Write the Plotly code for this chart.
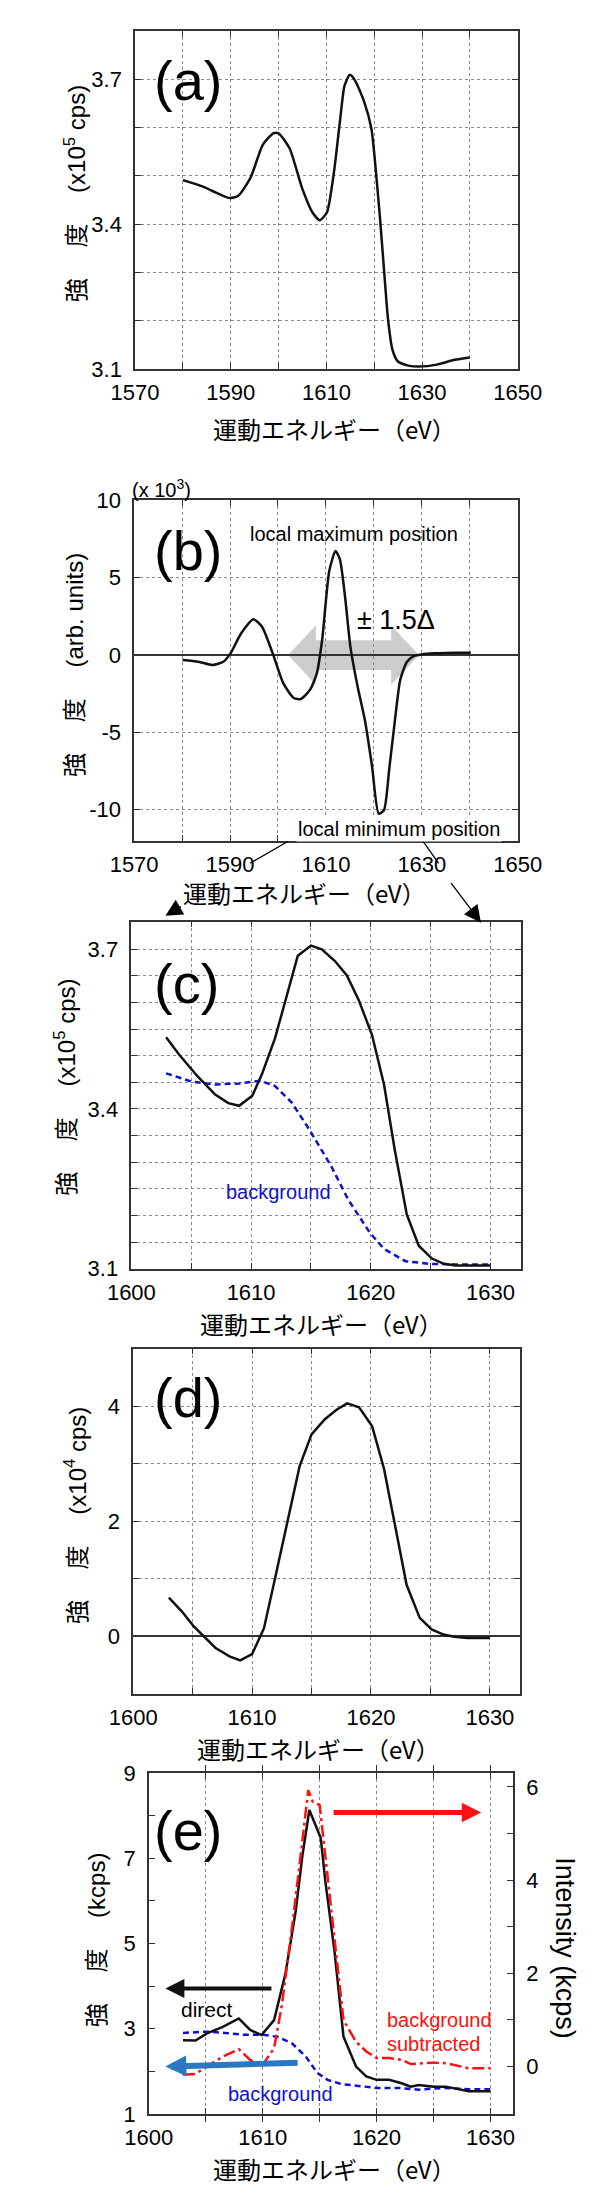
import plotly.graph_objects as go

W, H = 600, 2200

# ---------------- data ----------------
# (a) raw spectrum (x10^5 cps)
a_energy = [1580, 1584.1, 1586.3, 1589.7, 1591.5, 1594.1, 1596.7, 1598.9, 1600, 1602.3, 1604.9,
            1607.1, 1608.6, 1610.1, 1611.6, 1612.9, 1613.8, 1614.9, 1616, 1617.9, 1619.4, 1620.1,
            1621.2, 1622, 1622.9, 1623.8, 1624.9, 1627.1, 1629.4, 1633.1, 1636.8, 1640]
a_intensity = [3.491, 3.478, 3.468, 3.454, 3.458, 3.495, 3.564, 3.588, 3.588, 3.557, 3.475,
               3.424, 3.408, 3.424, 3.509, 3.619, 3.687, 3.709, 3.697, 3.653, 3.598, 3.536,
               3.413, 3.311, 3.201, 3.140, 3.116, 3.107, 3.105, 3.109, 3.119, 3.124]

# (b) derivative spectrum (x10^3 arb. units)
b_energy = [1580.1, 1583.4, 1586.4, 1588.6, 1590.1, 1592.3, 1594.9, 1596.7, 1598.9, 1601.1, 1603.3,
            1604.8, 1606.7, 1608.1, 1609.2, 1610.7, 1612, 1612.9, 1614, 1615.1, 1616.6, 1618.1,
            1619.6, 1621, 1622.1, 1623.2, 1624.4, 1625.5, 1626.9, 1628.4, 1629.9, 1632.8, 1637.3, 1640.2]
b_derivative = [-0.32, -0.43, -0.64, -0.43, 0.11, 1.39, 2.31, 1.82, 0.11, -1.82, -2.78,
                -2.84, -2.24, -1.18, 0.96, 5.45, 6.73, 6.2, 3.74, 0.53, -2.03, -4.17,
                -7.16, -10.26, -10.04, -7.37, -4.17, -1.6, -0.43, -0.06, 0.04, 0.11, 0.15, 0.15]

# (c) peak region and background (x10^5 cps)
c_energy = [1602.9, 1604, 1605.5, 1607, 1608.1, 1609, 1610.1, 1610.9, 1612, 1612.9, 1613.9, 1615,
            1615.9, 1617, 1618, 1619, 1620.1, 1621.1, 1622, 1623, 1624, 1625.1, 1626.1, 1627.1,
            1628.1, 1630]
c_intensity = [3.535, 3.502, 3.462, 3.427, 3.411, 3.406, 3.425, 3.465, 3.533, 3.607, 3.688, 3.707,
               3.700, 3.678, 3.651, 3.604, 3.539, 3.446, 3.323, 3.202, 3.143, 3.119, 3.109, 3.106,
               3.106, 3.106]
c_bg_energy = [1602.9, 1604, 1605.1, 1607, 1609, 1610.8, 1612, 1613.4, 1614.9, 1616.7, 1618.1,
               1619.9, 1621.1, 1622.9, 1624.9, 1627, 1630]
c_background = [3.467, 3.459, 3.451, 3.446, 3.448, 3.453, 3.443, 3.412, 3.360, 3.292, 3.230,
                3.168, 3.137, 3.114, 3.109, 3.108, 3.108]

# (d) background-subtracted (x10^4 cps)
d_energy = [1603, 1604.1, 1605.1, 1606.9, 1608.1, 1609, 1610, 1611, 1611.9, 1613, 1614, 1615,
            1616.1, 1617.1, 1618, 1619, 1620.1, 1621.1, 1622, 1623, 1624.1, 1625.1, 1626.1, 1627,
            1628.1, 1630]
d_intensity = [0.67, 0.43, 0.17, -0.20, -0.35, -0.42, -0.31, 0.14, 0.98, 2.04, 2.96, 3.51,
               3.77, 3.94, 4.05, 3.98, 3.65, 2.91, 1.93, 0.89, 0.32, 0.12, 0.03, -0.01,
               -0.03, -0.03]

# (e) direct / background (kcps, left) and subtracted (kcps, right)
e_direct_energy = [1603, 1604.1, 1605.1, 1606.5, 1607.9, 1608.9, 1609.9, 1611, 1612, 1612.9, 1613.5,
                   1614.1, 1615.1, 1615.5, 1616.3, 1617.1, 1618.2, 1619.1, 1620, 1621.1, 1622.2,
                   1623, 1623.7, 1625, 1626.1, 1627.2, 1628.1, 1630]
e_direct = [2.73, 2.72, 2.89, 3.04, 3.24, 2.97, 2.85, 3.20, 4.29, 5.76, 7.08,
            8.13, 7.47, 6.46, 4.83, 2.81, 2.11, 1.88, 1.80, 1.80, 1.72,
            1.64, 1.68, 1.64, 1.64, 1.57, 1.53, 1.53]
e_bg_energy = [1603, 1605.1, 1606.7, 1608.2, 1609.9, 1611.3, 1612.6, 1613.8, 1614.8, 1615.7, 1616.9,
               1618.5, 1620, 1621.9, 1623.7, 1625.9, 1628.1, 1630]
e_background = [2.90, 2.93, 2.90, 2.86, 2.86, 2.81, 2.65, 2.34, 1.96, 1.80, 1.70,
                1.66, 1.61, 1.61, 1.57, 1.61, 1.58, 1.58]
e_sub_energy = [1603, 1604.1, 1605.1, 1606.5, 1607.9, 1608.9, 1609.9, 1611, 1611.7, 1612.6, 1613.5,
                1614, 1614.4, 1615, 1615.5, 1616.3, 1617.1, 1618.2, 1619.1, 1620, 1621.1, 1622.2,
                1623, 1625, 1626.1, 1628.1, 1630]
e_subtracted = [-0.18, -0.16, 0.00, 0.21, 0.37, 0.14, 0.00, 0.39, 1.34, 3.03, 4.87,
                5.93, 5.68, 5.61, 4.52, 2.75, 0.99, 0.53, 0.32, 0.18, 0.18, 0.14,
                0.05, 0.08, 0.07, -0.04, -0.04]

# ticks
ab_xticks = [1570, 1580, 1590, 1600, 1610, 1620, 1630, 1640, 1650]
ab_xlabels = ["1570", "", "1590", "", "1610", "", "1630", "", "1650"]
a_yticks = [3.1, 3.2, 3.3, 3.4, 3.5, 3.6, 3.7, 3.8]
a_ylabels = ["3.1", "", "", "3.4", "", "", "3.7", ""]
b_yticks = [-10, -5, 0, 5, 10]
b_ylabels = ["-10", "-5", "0", "5", "10"]
cde_xticks = [1600, 1605, 1610, 1615, 1620, 1625, 1630]
cde_xlabels = ["1600", "", "1610", "", "1620", "", "1630"]
c_yticks = [3.1, 3.15, 3.2, 3.25, 3.3, 3.35, 3.4, 3.45, 3.5, 3.55, 3.6, 3.65, 3.7]
c_ylabels = ["3.1", "", "", "", "", "", "3.4", "", "", "", "", "", "3.7"]
d_yticks = [-1, 0, 1, 2, 3, 4, 5]
d_ylabels = ["", "0", "", "2", "", "4", ""]
e_yticks = [1, 2, 3, 4, 5, 6, 7, 8, 9]
e_ylabels = ["1", "", "3", "", "5", "", "7", "", "9"]
e_y2ticks = [0, 1, 2, 3, 4, 5, 6]
e_y2labels = ["0", "", "2", "", "4", "", "6"]

# ---------------- helpers ----------------
def fx(p):
    return p / W


def fy(p):
    return 1 - p / H


LATIN = "Arial, 'Liberation Sans', 'Noto Sans CJK JP', sans-serif"
CJK = "'Noto Sans CJK JP', sans-serif"
AXC = "#333333"
GRID = "#8a8a8a"
BLACK = "#111111"
BLUE = "#1010d0"
RED = "#ff1010"

common_x = dict(showline=True, linecolor=AXC, linewidth=1.5, mirror="allticks", ticks="inside",
                ticklen=6, tickcolor=AXC, showgrid=True, gridcolor=GRID, griddash="dot", gridwidth=1,
                zeroline=False, tickfont=dict(family=LATIN, size=22, color="black"),
                tickmode="array", ticklabelstandoff=3, fixedrange=True)
common_y = dict(common_x)


def xa(dom, rng, tv, tt, anchor):
    d = dict(common_x)
    d.update(domain=[fx(dom[0]), fx(dom[1])], range=rng, tickvals=tv, ticktext=tt, anchor=anchor)
    return d


def ya(dom, rng, tv, tt, anchor, **kw):
    d = dict(common_y)
    d.update(domain=[fy(dom[1]), fy(dom[0])], range=rng, tickvals=tv, ticktext=tt, anchor=anchor,
             ticklabelstandoff=7)
    d.update(kw)
    return d


fig = go.Figure()

def line(x, y, xa_, ya_, color=BLACK, width=2.5, dash="solid", shape="linear"):
    fig.add_trace(go.Scatter(x=x, y=y, xaxis=xa_, yaxis=ya_, mode="lines",
                             line=dict(color=color, width=width, dash=dash, shape=shape,
                                       smoothing=0.6 if shape == "spline" else None),
                             hoverinfo="skip", showlegend=False))

line(a_energy, a_intensity, "x", "y", shape="spline")
line(b_energy, b_derivative, "x2", "y2", shape="spline")
line(c_bg_energy, c_background, "x3", "y3", color=BLUE, dash="6px,4px")
line(c_energy, c_intensity, "x3", "y3")
line(d_energy, d_intensity, "x4", "y4")
line(e_bg_energy, e_background, "x5", "y5", color=BLUE, dash="6px,4px")
line(e_sub_energy, e_subtracted, "x5", "y6", color=RED, dash="12px,4px,3px,4px")
line(e_direct_energy, e_direct, "x5", "y5")

# panel boxes (px): left, right, top, bottom
PA = (112, 528, 11, 353)
PB = (111, 528, 486, 830)
PC = (108, 531, 912, 1263)
PD = (110, 530, 1344, 1693)
PE = (127, 523, 1773, 2118)

fig.update_layout(
    xaxis=xa(PA[:2], [1570, 1650], ab_xticks, ab_xlabels, "y"),
    yaxis=ya(PA[2:], [3.1, 3.8], a_yticks, a_ylabels, "x"),
    xaxis2=xa(PB[:2], [1570, 1650], ab_xticks, ab_xlabels, "y2"),
    yaxis2=ya(PB[2:], [-12, 10], b_yticks, b_ylabels, "x2", zeroline=True,
              zerolinecolor=AXC, zerolinewidth=1.5),
    xaxis3=xa(PC[:2], [1600, 1632.5], cde_xticks, cde_xlabels, "y3"),
    yaxis3=ya(PC[2:], [3.1, 3.752], c_yticks, c_ylabels, "x3"),
    xaxis4=xa(PD[:2], [1600, 1632.5], cde_xticks, cde_xlabels, "y4"),
    yaxis4=ya(PD[2:], [-1, 5], d_yticks, d_ylabels, "x4", zeroline=True,
              zerolinecolor=AXC, zerolinewidth=1.5),
    xaxis5=xa(PE[:2], [1600, 1632], cde_xticks, cde_xlabels, "y5"),
    yaxis5=ya(PE[2:], [1, 9], e_yticks, e_ylabels, "x5", showgrid=False, mirror=False),
    yaxis6=ya(PE[2:], [-1.02, 6.3], e_y2ticks, e_y2labels, "x5", showgrid=False, mirror=False,
              overlaying="y5", side="right"),
)

anns = []

def txt(text, x, y, size, color="black", family=LATIN, angle=0, xanchor="center",
        yanchor="middle", bg=None):
    d = dict(text=text, x=fx(x), y=fy(y), xref="paper", yref="paper", showarrow=False,
             font=dict(family=family, size=size, color=color), textangle=angle,
             xanchor=xanchor, yanchor=yanchor)
    if bg:
        d["bgcolor"] = bg
    anns.append(d)

XT = "運動エネルギー（eV）"
txt(XT, 329, 413, 24, family=CJK)
txt(XT, 296, 883, 24, family=CJK)
txt(XT, 315, 1318, 24, family=CJK)
txt(XT, 311, 1748, 24, family=CJK)
txt(XT, 329, 2173, 24, family=CJK)

txt("強　 度　 (x10<sup>5</sup> cps)", 47, 176, 24, angle=-90)
txt("強　 度　 (arb. units)", 46, 652, 24, angle=-90)
txt("強　 度　 (x10<sup>5</sup> cps)", 36, 1080, 24, angle=-90)
txt("強　 度　 (x10<sup>4</sup> cps)", 47, 1513, 24, angle=-90)
txt("強　 度　 (kcps)", 71, 1942, 24, angle=-90)
txt("Intensity (kcps)", 580, 1950, 27, angle=90)

for lab, (cx, cy) in zip(["(a)", "(b)", "(c)", "(d)", "(e)"],
                         [(170, 61), (170, 537), (168, 975), (170, 1393), (170, 1831)]):
    txt(lab, cx, cy, 56)

txt("(x 10<sup>3</sup>)", 141, 474, 20)
txt("local maximum position", 350, 520, 20)
txt("± 1.5Δ", 396, 607, 27)
txt("local minimum position", 399, 818, 20, bg="white")
txt("background", 268, 1185, 20, color=BLUE)
txt("direct", 190, 2012, 21)
txt("background", 270, 2098, 20, color=BLUE)
txt("background", 384, 2023, 20, color=RED, xanchor="left")
txt("subtracted", 384, 2047, 20, color=RED, xanchor="left")

# arrows in panel (e) (data coordinates)
def arrow(x, y, ax, ay, xref, yref, color, width, size):
    anns.append(dict(x=x, y=y, ax=ax, ay=ay, xref=xref, yref=yref, axref=xref, ayref=yref,
                     showarrow=True, arrowhead=2, arrowwidth=width, arrowsize=size,
                     arrowcolor=color, text=""))

arrow(1601.45, 3.94, 1610.9, 3.94, "x5", "y5", BLACK, 4, 0.95)
arrow(1601.45, 2.11, 1613.2, 2.2, "x5", "y5", "#2a78c0", 6, 0.7)
arrow(1629.2, 8.07, 1616.1, 8.07, "x5", "y5", RED, 5, 0.78)

# connector arrows between (b) and (c) (page position)
anns.append(dict(x=fx(145), y=fy(906), ax=17, ay=-10, xref="paper", yref="paper",
                 showarrow=True, arrowhead=2, arrowwidth=1.3, arrowsize=2.6,
                 arrowcolor="black", text=""))
anns.append(dict(x=fx(488), y=fy(913), ax=-31, ay=-41, xref="paper", yref="paper",
                 showarrow=True, arrowhead=2, arrowwidth=1.3, arrowsize=2.6,
                 arrowcolor="black", text=""))

shapes = [
    dict(type="line", xref="paper", yref="paper", x0=fx(278), y0=fy(831), x1=fx(237), y1=fy(853),
         line=dict(color="black", width=1.3)),
    dict(type="line", xref="paper", yref="paper", x0=fx(423), y0=fy(828), x1=fx(442), y1=fy(853),
         line=dict(color="black", width=1.3)),
]

# gray double-headed arrow in (b) (data coordinates)
L, R, HL, HH, SH = 1602.1, 1629.4, 5.8, 1.92, 0.96
path = (f"M{L},0 L{L+HL},{HH} L{L+HL},{SH} L{R-HL},{SH} L{R-HL},{HH} L{R},0 "
        f"L{R-HL},{-HH} L{R-HL},{-SH} L{L+HL},{-SH} L{L+HL},{-HH} Z")
shapes.append(dict(type="path", path=path, xref="x2", yref="y2", fillcolor="rgba(170,170,170,0.6)",
                   line=dict(width=0), layer="below"))

fig.update_layout(width=W, height=H, margin=dict(l=0, r=0, t=0, b=0),
                  paper_bgcolor="white", plot_bgcolor="white", showlegend=False,
                  annotations=anns, shapes=shapes)

fig.write_html("out.html")
